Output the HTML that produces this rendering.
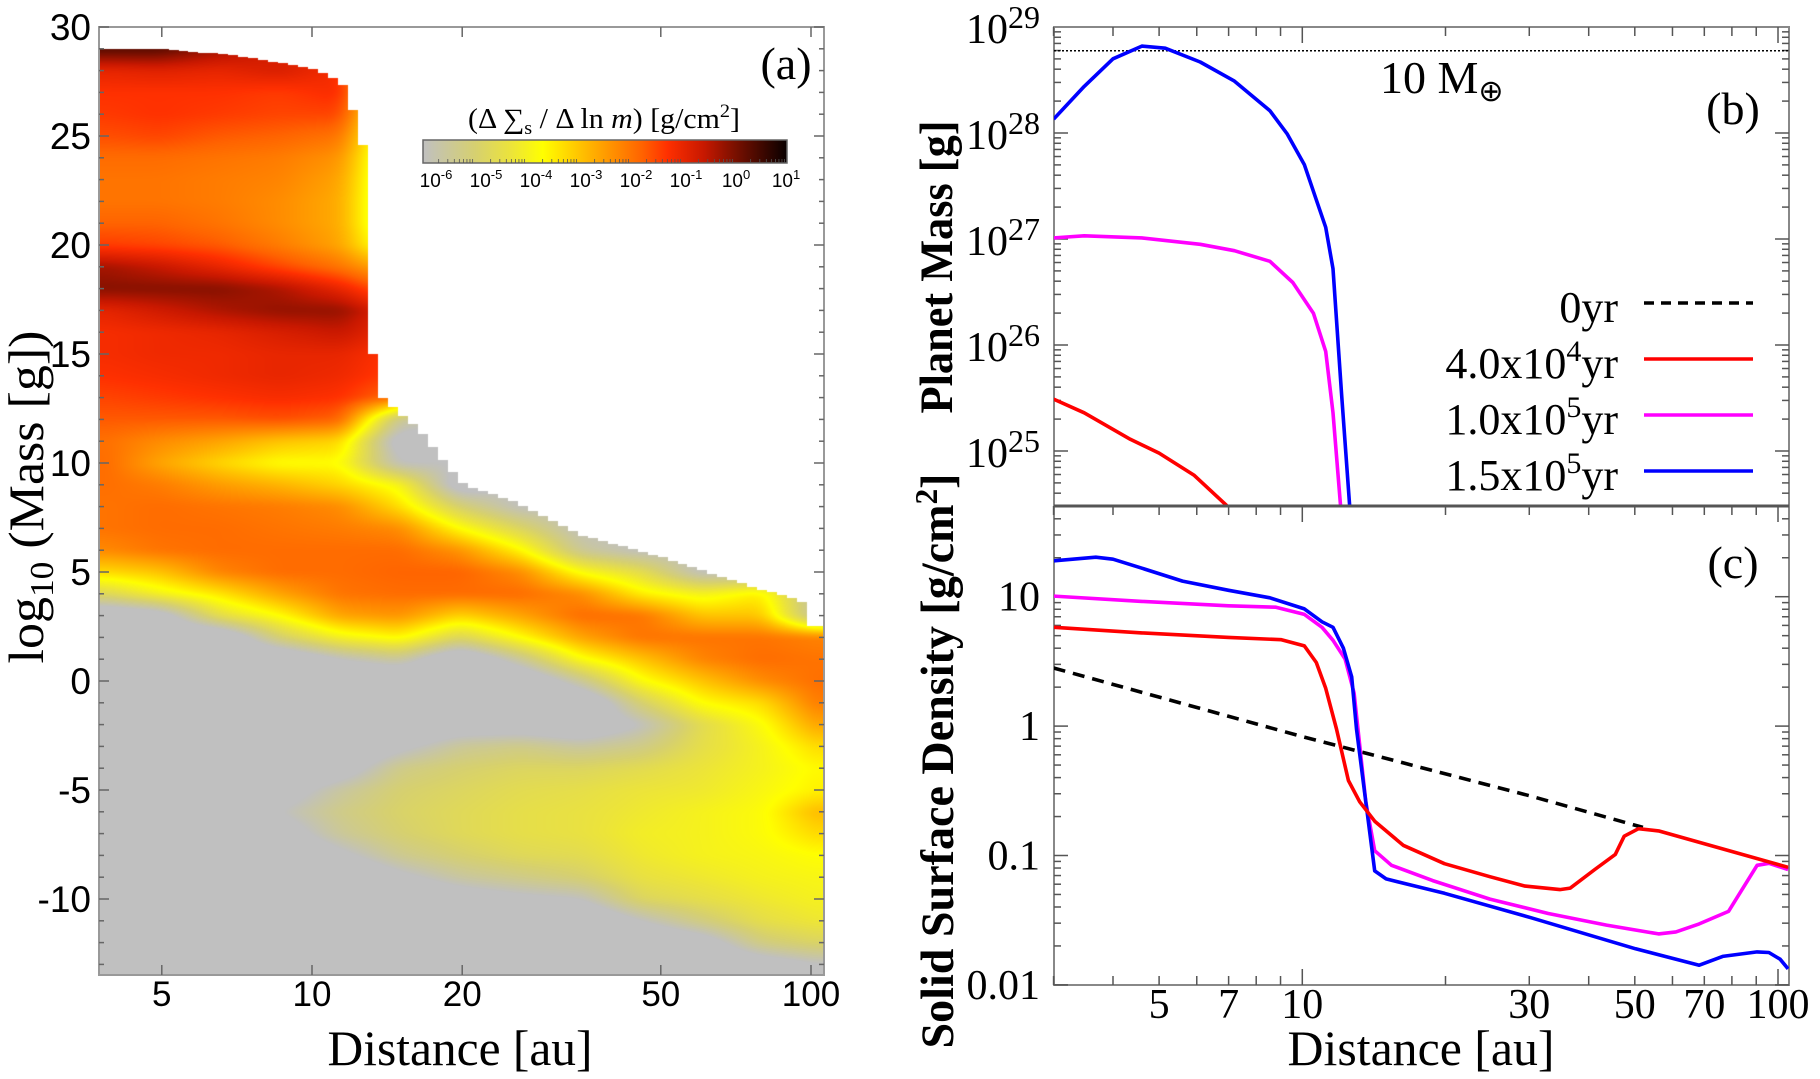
<!DOCTYPE html>
<html><head><meta charset="utf-8">
<style>
html,body{margin:0;padding:0;background:#fff;}
#wrap{position:relative;width:1820px;height:1079px;overflow:hidden;background:#fff;}
#heat{position:absolute;left:99px;top:27px;}
#svg{position:absolute;left:0;top:0;}
text{font-family:"Liberation Serif",serif;fill:#000;}
.sans{font-family:"Liberation Sans",sans-serif;}
</style></head>
<body>
<div id="wrap">
<canvas id="heat" width="725" height="948"></canvas>
<svg id="svg" width="1820" height="1079" xmlns="http://www.w3.org/2000/svg"></svg>
</div>
<script>
// ---------- Panel (a) heatmap data ----------
const heatColAu = [3.74,4.94,6.52,8.6,11.4,15.0,19.8,26.2,34.6,45.6,60.3,79.6,105];
// rows: log10 mass 29 down to -13 (43 rows); values = log10(dSigma/dlnm)
const heatCol0 = [0.3,-1.0,-1.3,-1.4,-1.6,-1.9,-2.0,-2.0,-1.8,-1.4,-0.3,-0.1,-1.0,-1.2,-1.2,-1.3,-1.5,-1.7,-1.9,-1.8,-1.9,-2.0,-2.0,-2.3,-3.3,-4.8,-7,-7,-7,-7,-7,-7,-7,-7,-7,-7,-7,-7,-7,-7,-7,-7,-7];
const heatCol1 = [0.3,-0.9,-1.3,-1.3,-1.5,-1.9,-2.0,-2.0,-1.8,-1.5,-0.6,-0.1,-0.7,-1.1,-1.1,-1.2,-1.4,-1.7,-2.3,-2.6,-2.1,-1.9,-1.9,-2.0,-3.0,-4.0,-6.5,-7,-7,-7,-7,-7,-7,-7,-7,-7,-7,-7,-7,-7,-7,-7,-7];
const heatCol2 = [-0.3,-1.0,-1.3,-1.4,-1.7,-2.0,-2.1,-2.1,-2.0,-1.7,-1.0,-0.1,-0.4,-1.0,-1.1,-1.1,-1.3,-1.7,-2.6,-3.2,-2.5,-2.0,-1.9,-1.9,-2.2,-3.4,-4.5,-7,-7,-7,-7,-7,-7,-7,-7,-7,-7,-7,-7,-7,-7,-7,-7];
const heatCol3 = [-0.8,-0.8,-1.4,-1.5,-1.8,-2.1,-2.2,-2.3,-2.3,-2.1,-1.5,-0.4,-0.2,-0.8,-1.0,-1.0,-1.2,-1.6,-3.0,-3.7,-2.8,-2.1,-2.0,-1.9,-1.9,-2.6,-3.7,-5.0,-7,-7,-7,-7,-7,-7,-6.5,-6.0,-6.5,-7,-7,-7,-7,-7,-7];
const heatCol4 = [-1.2,-1.2,-1.2,-1.5,-2.0,-2.4,-2.6,-2.7,-2.7,-2.6,-2.0,-1.0,-0.2,-0.6,-1.0,-1.1,-1.3,-1.8,-3.2,-3.7,-3.2,-2.3,-2.1,-1.9,-1.9,-2.0,-2.6,-4.0,-6.0,-7,-7,-7,-7,-6.5,-5.6,-5.3,-5.5,-6.2,-7,-7,-7,-7,-7];
const heatCol5 = [-5,-5,-5,-5,-5,-5,-5,-5,-5,-4.5,-3.0,-2.0,-1.2,-1.2,-1.4,-1.5,-2.0,-5.5,-6.5,-6.0,-3.9,-3.3,-2.3,-1.9,-1.8,-1.9,-2.4,-3.6,-5.5,-7,-7,-7,-6.2,-5.3,-5.0,-4.9,-5.0,-5.4,-6.2,-7,-7,-7,-7];
const heatCol6 = [-6,-6,-6,-6,-6,-6,-6,-6,-6,-6,-6,-6,-6,-6,-6,-6,-6,-6,-6,-6,-6.5,-5.0,-3.7,-2.4,-1.8,-1.9,-3.2,-4.8,-7,-7,-7,-6.5,-5.5,-5.0,-4.8,-4.7,-4.7,-5.0,-5.6,-6.5,-7,-7,-7];
const heatCol7 = [-6,-6,-6,-6,-6,-6,-6,-6,-6,-6,-6,-6,-6,-6,-6,-6,-6,-6,-6,-6,-6,-6.0,-4.8,-3.6,-2.3,-1.9,-2.6,-3.7,-5.5,-7,-7,-6.5,-5.3,-4.8,-4.6,-4.5,-4.5,-4.7,-5.3,-6.2,-7,-7,-7];
const heatCol8 = [-6,-6,-6,-6,-6,-6,-6,-6,-6,-6,-6,-6,-6,-6,-6,-6,-6,-6,-6,-6,-6,-6,-6,-5.5,-3.8,-2.3,-1.9,-2.6,-3.8,-5.5,-7,-6.8,-5.6,-4.8,-4.5,-4.4,-4.4,-4.6,-5.0,-6.0,-7,-7,-7];
const heatCol9 = [-6,-6,-6,-6,-6,-6,-6,-6,-6,-6,-6,-6,-6,-6,-6,-6,-6,-6,-6,-6,-6,-6,-6,-6,-4.5,-3.5,-2.0,-2.0,-3.0,-3.8,-5.0,-6.0,-5.3,-4.6,-4.3,-4.2,-4.1,-4.2,-4.4,-4.8,-6.0,-7,-7];
const heatCol10 = [-6,-6,-6,-6,-6,-6,-6,-6,-6,-6,-6,-6,-6,-6,-6,-6,-6,-6,-6,-6,-6,-6,-6,-6,-6,-4.0,-3.0,-2.0,-2.2,-3.0,-3.7,-4.6,-4.5,-4.3,-4.2,-4.0,-4.0,-4.0,-4.2,-4.5,-5.2,-6.5,-7];
const heatCol11 = [-6,-6,-6,-6,-6,-6,-6,-6,-6,-6,-6,-6,-6,-6,-6,-6,-6,-6,-6,-6,-6,-6,-6,-6,-6,-3.5,-3.0,-2.0,-1.9,-2.3,-3.3,-3.8,-4.0,-4.0,-3.9,-3.8,-3.8,-3.9,-4.0,-4.2,-4.5,-5.2,-6.5];
const heatCol12 = [-6,-6,-6,-6,-6,-6,-6,-6,-6,-6,-6,-6,-6,-6,-6,-6,-6,-6,-6,-6,-6,-6,-6,-6,-6,-6,-6,-2.2,-2.0,-1.9,-2.0,-2.5,-3.2,-3.6,-3.5,-2.8,-3.2,-3.7,-3.9,-4.0,-4.2,-4.8,-6.0];
// upper edge of computed domain (log10 mass) vs distance
const boundAu   = [3.74,5,7,9,10,11,11.6,11.65,12.2,12.25,12.8,12.85,13.5,13.55,14.2,15,16.5,18.2,20.2,25,34.4,50,77,95,99,100,106];
const boundMass = [29.0,29.0,28.7,28.3,28.1,27.7,27.3,26.2,26.2,24.6,24.6,15.0,15.0,13.25,12.75,12.3,11.5,10.2,9.0,8.3,6.7,5.7,4.3,3.7,3.5,2.5,2.5];
const cbarTickExp = ["-6","-5","-4","-3","-2","-1","0","1"];
const aYTicks = [30,25,20,15,10,5,0,-5,-10];
const aXTicks = [5,10,20,50,100];

// ---------- Panel (b) data: log10 planet mass [g] ----------
const bBlueAu = [3.0,3.48,4.0,4.6,5.15,6.1,7.2,8.55,9.3,10.1,10.7,11.2,11.6,12.1,12.9];
const bBlueLogM = [28.13,28.44,28.70,28.82,28.80,28.67,28.49,28.21,27.99,27.70,27.37,27.11,26.72,25.52,23.8];
const bMagAu = [3.0,3.48,4.6,6.1,7.2,8.55,9.55,10.55,11.2,11.6,12.03,12.2];
const bMagLogM = [27.01,27.03,27.01,26.95,26.89,26.79,26.59,26.30,25.94,25.36,24.49,24.0];
const bRedAu = [3.0,3.48,4.35,5.0,5.93,6.92,7.3];
const bRedLogM = [25.49,25.36,25.11,24.98,24.77,24.49,24.35];
const bYTickExp = [29,28,27,26,25];
const tenEarthLogM = 28.776;

// ---------- Panel (c) data: solid surface density [g/cm2] ----------
const cBlueAu = [3.0,3.68,4.0,4.6,5.6,7.0,8.55,10.1,11.0,11.6,12.2,12.7,13.0,13.6,14.2,15.0,19.9,30.3,50.2,68.3,76.5,90.4,95.7,101,105];
const cBlueS = [18.9,20.2,19.5,16.6,13.2,11.2,9.8,8.05,6.4,5.8,4.0,2.4,0.95,0.26,0.076,0.066,0.051,0.033,0.019,0.0142,0.0166,0.018,0.0178,0.0158,0.0133];
const cMagAu = [3.0,4.6,7.0,8.8,10.1,11.0,11.6,12.3,12.85,13.6,14.2,15.4,18.8,24.8,32.9,43.6,56.1,61,68.3,78.7,90.4,95.7,105];
const cMagS = [10.1,9.2,8.5,8.3,7.3,5.8,4.6,3.3,1.8,0.26,0.109,0.084,0.064,0.046,0.0356,0.029,0.0248,0.0257,0.0296,0.037,0.084,0.087,0.078];
const cRedAu = [3.0,4.6,7.0,9.04,10.1,10.7,11.2,11.8,12.5,13.2,14.2,16.3,19.9,24.8,29.4,34.8,36.6,41.2,45.5,47.5,50.9,56.1,105];
const cRedS = [5.8,5.25,4.85,4.65,4.17,3.1,1.96,0.95,0.38,0.26,0.184,0.12,0.0865,0.0686,0.058,0.0545,0.056,0.078,0.102,0.141,0.161,0.155,0.081];
const cDashAu = [3.0,10,30,52];
const cDashS = [2.81,0.83,0.29,0.165];
const cYTicks = ["10","1","0.1","0.01"];
const cYVals = [10,1,0.1,0.01];
const cXTicks = [5,7,10,30,50,70,100];

// legend
const legendLabels = [["0yr",""],["4.0x10","4"],["1.0x10","5"],["1.5x10","5"]];
const legendColors = ["#000","#ff0000","#ff00ff","#0000ff"];

// ---------- colormap ----------
const cmapStops = [[-6,[192,192,192]],[-5,[214,208,112]],[-4.3,[236,228,58]],[-3.7,[255,255,0]],[-3.0,[255,196,0]],[-2.4,[255,148,0]],[-1.8,[255,100,0]],[-1.3,[255,48,0]],[-0.6,[200,24,0]],[0.0,[122,16,0]],[1.0,[8,0,0]]];
function cmap(v){
  if(v<=cmapStops[0][0]) return cmapStops[0][1];
  for(let i=0;i<cmapStops.length-1;i++){
    const a=cmapStops[i],b=cmapStops[i+1];
    if(v<=b[0]){const t=(v-a[0])/(b[0]-a[0]);return [0,1,2].map(k=>a[1][k]+(b[1][k]-a[1][k])*t);}
  }
  return cmapStops[cmapStops.length-1][1];
}

// ---------- scales ----------
const L=Math.log10;
const xA=au=>312+499*(L(au)-1);
const yA=m=>27+(30-m)*21.8;
const xB=au=>1302.3+475.7*(L(au)-1);
const yB=lm=>27+(29-lm)*106;
const yC=s=>596.7+(1-L(s))*129.4;

function interp(xs,ys,x){
  if(x<=xs[0]) return ys[0];
  for(let i=0;i<xs.length-1;i++){ if(x<=xs[i+1]){const t=(x-xs[i])/(xs[i+1]-xs[i]);return ys[i]+(ys[i+1]-ys[i])*t;} }
  return ys[ys.length-1];
}

// ---------- draw heatmap ----------
(function(){
  const cols=[heatCol0,heatCol1,heatCol2,heatCol3,heatCol4,heatCol5,heatCol6,heatCol7,heatCol8,heatCol9,heatCol10,heatCol11,heatCol12];
  const colLog=heatColAu.map(L);
  const bLog=boundAu.map(L);
  const cv=document.getElementById('heat'),ctx=cv.getContext('2d');
  const Wc=cv.width,Hc=cv.height;
  let V=new Float32Array(Wc*Hc);
  const tops=new Float32Array(Wc);
  for(let i=0;i<Wc;i++){
    const px=99+i+0.5, la=1+(px-312)/499;
    const q=Math.floor((la-0.5725)/0.02)*0.02+0.5725+0.01;
    tops[i]=interp(bLog,boundMass,q);
    let k=0; while(k<colLog.length-2 && la>colLog[k+1]) k++;
    let tx=(la-colLog[k])/(colLog[k+1]-colLog[k]); tx=Math.max(0,Math.min(1,tx));
    for(let j=0;j<Hc;j++){
      const m=30-(j+0.5)/21.8;
      let r=29-m; r=Math.max(0,Math.min(41.999,r)); const r0=Math.floor(r),ty=r-r0;
      const v00=cols[k][r0],v01=cols[k][r0+1],v10=cols[k+1][r0],v11=cols[k+1][r0+1];
      V[j*Wc+i]=(v00*(1-ty)+v01*ty)*(1-tx)+(v10*(1-ty)+v11*ty)*tx;
    }
  }
  // separable box smoothing of the value field (removes grid kinks)
  function boxH(src,R){const out=new Float32Array(src.length);for(let j=0;j<Hc;j++){for(let i=0;i<Wc;i++){let s=0,n=0;for(let d=-R;d<=R;d++){const ii=i+d;if(ii<0||ii>=Wc)continue;s+=src[j*Wc+ii];n++;}out[j*Wc+i]=s/n;}}return out;}
  function boxV(src,R){const out=new Float32Array(src.length);for(let i=0;i<Wc;i++){for(let j=0;j<Hc;j++){let s=0,n=0;for(let d=-R;d<=R;d++){const jj=j+d;if(jj<0||jj>=Hc)continue;s+=src[jj*Wc+i];n++;}out[j*Wc+i]=s/n;}}return out;}
  V=boxH(V,10);V=boxH(V,10);V=boxV(V,4);
  const img=ctx.createImageData(Wc,Hc),d=img.data;
  for(let i=0;i<Wc;i++){
    for(let j=0;j<Hc;j++){
      const m=30-(j+0.5)/21.8, o=(j*Wc+i)*4;
      if(m>tops[i]){d[o+3]=0;continue;}
      const c=cmap(V[j*Wc+i]); d[o]=c[0];d[o+1]=c[1];d[o+2]=c[2];d[o+3]=255;
    }
  }
  ctx.putImageData(img,0,0);
})();

// ---------- SVG ----------
const svg=document.getElementById('svg');
const NS='http://www.w3.org/2000/svg';
function el(tag,attrs,parent){const e=document.createElementNS(NS,tag);for(const k in attrs)e.setAttribute(k,attrs[k]);(parent||svg).appendChild(e);return e;}
function txt(str,attrs,parent){const e=el('text',attrs,parent);e.textContent=str;return e;}

const defs=el('defs',{});
const cpB=el('clipPath',{id:'clipB'},defs); el('rect',{x:1054,y:27,width:735,height:478},cpB);
const cpC=el('clipPath',{id:'clipC'},defs); el('rect',{x:1054,y:507,width:735,height:478},cpC);
const grad=el('linearGradient',{id:'cbar',x1:0,x2:1,y1:0,y2:0},defs);
cmapStops.forEach(s=>{const c=cmap(s[0]);el('stop',{offset:((s[0]+6)/7).toFixed(3),'stop-color':`rgb(${c.map(Math.round).join(',')})`},grad);});

// ===== Panel (a) =====
const gA=el('g',{});


const frA=el('rect',{x:99,y:27,width:725,height:948,fill:'none',stroke:'#999','stroke-width':2},gA);


for(let m=-13;m<=30;m++){
  const y=yA(m), len=(m%5===0)?10:5;
  el('line',{x1:99,x2:99+len,y1:y,y2:y,stroke:'#666','stroke-width':1.5},gA);
  el('line',{x1:824,x2:824-len,y1:y,y2:y,stroke:'#666','stroke-width':1.5},gA);
}
aYTicks.forEach(v=>{
  const t=txt(String(v),{x:91,y:yA(v)+13,'text-anchor':'end','font-size':37,class:'sans'},gA);
  
  
});
aXTicks.forEach(v=>{
  const x=xA(v);
  el('line',{x1:x,x2:x,y1:975,y2:965,stroke:'#666','stroke-width':1.5},gA);
  el('line',{x1:x,x2:x,y1:27,y2:37,stroke:'#666','stroke-width':1.5},gA);
  const t=txt(String(v),{x:x,y:1006,'text-anchor':'middle','font-size':35,class:'sans'},gA);
  
  
});
const axA=txt('Distance [au]',{x:460,y:1065,'text-anchor':'middle','font-size':50,textLength:265,lengthAdjust:'spacingAndGlyphs'},gA);


const ayA=el('text',{transform:'translate(43,497) rotate(-90)','text-anchor':'middle','font-size':50,textLength:333,lengthAdjust:'spacingAndGlyphs'},gA);


ayA.innerHTML='log<tspan font-size="34" dy="10">10</tspan><tspan dy="-10"> (Mass [g])</tspan>';
const labA=txt('(a)',{x:786,y:79,'text-anchor':'middle','font-size':46},gA);


const cbt=el('text',{x:604,y:128,'text-anchor':'middle','font-size':28,textLength:272,lengthAdjust:'spacingAndGlyphs'},gA);


cbt.innerHTML='(Δ ∑<tspan font-size="19" dy="6">s</tspan><tspan dy="-6"> / Δ ln </tspan><tspan font-style="italic">m</tspan>) [g/cm<tspan font-size="19" dy="-11">2</tspan><tspan dy="11">]</tspan>';
const cb=el('rect',{x:423,y:140,width:364,height:23,fill:'url(#cbar)',stroke:'#666','stroke-width':1.5},gA);


cbarTickExp.forEach((e,i)=>{
  const x=423+364*i/7;
  for(let k=2;k<10&&i<7;k++){const xx=x+364/7*L(k);el('line',{x1:xx,x2:xx,y1:163,y2:159,stroke:'#555','stroke-width':0.8},gA);}
  const t=el('text',{x:436+50*i,y:187,'text-anchor':'middle','font-size':19,class:'sans'},gA);
  
  
  t.innerHTML='10<tspan font-size="13" dy="-8">'+e+'</tspan>';
});

// ===== Panels (b),(c) shared =====
const gBC=el('g',{});


const frB=el('rect',{x:1054,y:27,width:735,height:958,fill:'none',stroke:'#888','stroke-width':2},gBC);


for(let dec=1;dec<=100;dec*=10){
  for(let k=1;k<10;k++){
    const au=dec*k; if(au<3||au>105) continue;
    const x=xB(au), len=(k===1)?16:9;
    [[27,1],[506,1],[985,-1]].forEach(([y,s])=>el('line',{x1:x,x2:x,y1:y,y2:y+s*len,stroke:'#555','stroke-width':1.5},gBC));
  }
}
cXTicks.forEach(v=>{
  const t=txt(String(v),{x:xB(v),y:1018,'text-anchor':'middle','font-size':42},gBC);
  
  
});
const axC=txt('Distance [au]',{x:1421,y:1065,'text-anchor':'middle','font-size':50,textLength:267,lengthAdjust:'spacingAndGlyphs'},gBC);



// ===== Panel (b) =====
for(let e=24;e<=28;e++){
  for(let k=1;k<10;k++){
    const lm=e+L(k); if(lm<24.49||lm>29) continue;
    const y=yB(lm), len=(k===1)?14:7;
    el('line',{x1:1054,x2:1054+len,y1:y,y2:y,stroke:'#555','stroke-width':1.5},gBC);
    el('line',{x1:1789,x2:1789-len,y1:y,y2:y,stroke:'#555','stroke-width':1.5},gBC);
  }
}
bYTickExp.forEach(e=>{
  const t=el('text',{x:1040,y:yB(e)+16,'text-anchor':'end','font-size':42},gBC);
  
  
  t.innerHTML='10<tspan font-size="32" dy="-15">'+e+'</tspan>';
});
const ayB=txt('Planet Mass [g]',{transform:'translate(952,267) rotate(-90)','text-anchor':'middle','font-size':47,'font-weight':'bold',textLength:293,lengthAdjust:'spacingAndGlyphs'},gBC);


const tenE=el('line',{x1:1054,x2:1789,y1:yB(tenEarthLogM),y2:yB(tenEarthLogM),stroke:'#000','stroke-width':1.5,'stroke-dasharray':'2 2'},gBC);


const tenT=el('text',{x:1380,y:93,'font-size':46},gBC);


tenT.innerHTML='10 M<tspan font-size="30" dy="8">⊕</tspan>';
const labB=txt('(b)',{x:1733,y:124,'text-anchor':'middle','font-size':46},gBC);


function series(xs,ys,xf,yf,color,clip,name,dash){
  const d=xs.map((x,i)=>(i?'L':'M')+xf(x).toFixed(1)+','+yf(ys[i]).toFixed(1)).join('');
  const p=el('path',{d:d,fill:'none',stroke:color,'stroke-width':3.6,'stroke-linejoin':'round','clip-path':'url(#'+clip+')'},gBC);
  if(dash) p.setAttribute('stroke-dasharray',dash);
  
  
}
series(bRedAu,bRedLogM,xB,yB,'#ff0000','clipB','b-line-4e4yr');
series(bMagAu,bMagLogM,xB,yB,'#ff00ff','clipB','b-line-1e5yr');
series(bBlueAu,bBlueLogM,xB,yB,'#0000ff','clipB','b-line-1.5e5yr');
legendLabels.forEach((lab,i)=>{
  const y=303+56*i;
  const t=el('text',{x:1618,y:y+19,'text-anchor':'end','font-size':44},gBC);
  
  
  t.innerHTML = lab[1] ? lab[0]+'<tspan font-size="30" dy="-17">'+lab[1]+'</tspan><tspan dy="17">yr</tspan>' : lab[0];
  const ln=el('line',{x1:1644,x2:1753,y1:y,y2:y,stroke:legendColors[i],'stroke-width':3.6},gBC);
  if(i===0) ln.setAttribute('stroke-dasharray','10 7');
  
  
});

// ===== Panel (c) =====
for(let e=-2;e<=1;e++){
  for(let k=1;k<10;k++){
    const s=Math.pow(10,e)*k; if(s<0.01||s>50) continue;
    const y=yC(s), len=(k===1)?14:7;
    el('line',{x1:1054,x2:1054+len,y1:y,y2:y,stroke:'#555','stroke-width':1.5},gBC);
    el('line',{x1:1789,x2:1789-len,y1:y,y2:y,stroke:'#555','stroke-width':1.5},gBC);
  }
}
cYTicks.forEach((lab,i)=>{
  const t=txt(lab,{x:1040,y:yC(cYVals[i])+14,'text-anchor':'end','font-size':42},gBC);
  
  
});
const ayC=el('text',{transform:'translate(953,761) rotate(-90)','text-anchor':'middle','font-size':47,'font-weight':'bold',textLength:575,lengthAdjust:'spacingAndGlyphs'},gBC);


ayC.innerHTML='Solid Surface Density [g/cm<tspan font-size="32" dy="-16">2</tspan><tspan dy="16">]</tspan>';
const labC=txt('(c)',{x:1733,y:578,'text-anchor':'middle','font-size':46},gBC);


series(cDashAu,cDashS,xB,yC,'#000','clipC','c-line-0yr','12 8');
series(cMagAu,cMagS,xB,yC,'#ff00ff','clipC','c-line-1e5yr');
series(cBlueAu,cBlueS,xB,yC,'#0000ff','clipC','c-line-1.5e5yr');
series(cRedAu,cRedS,xB,yC,'#ff0000','clipC','c-line-4e4yr');
const sep=el('line',{x1:1054,x2:1789,y1:506,y2:506,stroke:'#555','stroke-width':3},gBC);


</script>
</body></html>
